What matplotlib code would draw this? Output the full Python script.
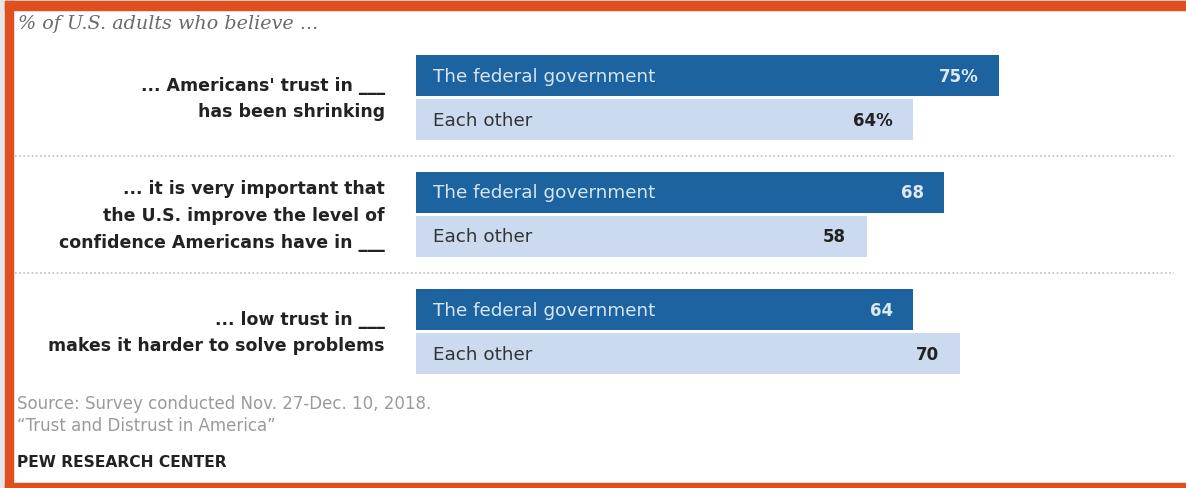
import matplotlib
matplotlib.use("Agg")
import matplotlib.pyplot as plt
from matplotlib.patches import Rectangle

# ---- data ----
questions = ["... Americans' trust in ___\nhas been shrinking",
             "... it is very important that\nthe U.S. improve the level of\nconfidence Americans have in ___",
             "... low trust in ___\nmakes it harder to solve problems"]
series_names = ["The federal government", "Each other"]
federal = [75, 68, 64]
each_other = [64, 58, 70]
value_labels_fed = ["75%", "68", "64"]
value_labels_each = ["64%", "58", "70"]
title = "% of U.S. adults who believe ..."
source_lines = ["Source: Survey conducted Nov. 27-Dec. 10, 2018.",
                "\u201cTrust and Distrust in America\u201d"]
credit = "PEW RESEARCH CENTER"

# ---- layout ----
W, H = 1186, 489
fig = plt.figure(figsize=(W / 100, H / 100), dpi=100)
fig.patch.set_facecolor("white")
ax = fig.add_axes([0, 0, 1, 1])
x0_px, px_per_unit = 416, 7.77
ax.set_xlim(-x0_px / px_per_unit, (W - x0_px) / px_per_unit)
ax.set_ylim(H, 0)
ax.axis("off")

FED_C = "#1d63a0"
EACH_C = "#cbdaee"
group_top, group_step, bar_h, gap = 56, 117, 41, 3
SANS = ["DejaVu Sans"]

for i, (f, e) in enumerate(zip(federal, each_other)):
    yf = group_top + i * group_step + bar_h / 2
    ye = yf + bar_h + gap
    ax.barh([yf], [f], height=bar_h, left=0, color=FED_C, edgecolor="none")
    ax.barh([ye], [e], height=bar_h, left=0, color=EACH_C, edgecolor="none")
    pad = 17 / px_per_unit
    ax.text(pad, yf, series_names[0], ha="left", va="center", color="#d6e6f6",
            fontsize=13.2, family=SANS)
    ax.text(pad, ye, series_names[1], ha="left", va="center", color="#333333",
            fontsize=13.2, family=SANS)
    ax.text(f - 20 / px_per_unit, yf, value_labels_fed[i], ha="right", va="center",
            color="#dce9f6", fontsize=12, fontweight="bold", family=SANS)
    ax.text(e - 21 / px_per_unit, ye, value_labels_each[i], ha="right", va="center",
            color="#222222", fontsize=12, fontweight="bold", family=SANS)
    # question label
    ax.text(-31 / px_per_unit, (yf + ye) / 2 + 0.5, questions[i], ha="right", va="center",
            color="#222222", fontsize=12.5, linespacing=1.62, fontweight="bold", family=SANS)
    if i < len(federal) - 1:
        ysep = ye + bar_h / 2 + 16
        ax.plot([-401 / px_per_unit, (1174 - x0_px) / px_per_unit], [ysep, ysep],
                color="#bdbdbd", lw=1.2, ls=(0, (1.0, 1.5)))

# title and footer
fig.text(18 / W, 1 - 24 / H, title, ha="left", va="center", color="#6a6a6a",
         fontsize=13.8, style="italic", family=["DejaVu Serif"])
fig.text(17 / W, 1 - 404 / H, source_lines[0], ha="left", va="center", color="#9a9a9a",
         fontsize=12, family=SANS)
fig.text(17 / W, 1 - 426 / H, source_lines[1], ha="left", va="center", color="#9a9a9a",
         fontsize=12, family=SANS)
fig.text(17 / W, 1 - 463 / H, credit, ha="left", va="center", color="#222222",
         fontsize=11.2, fontweight="bold", family=SANS)

# frame
ORANGE = "#e0501f"
fig.patches.append(Rectangle((0, 0), 5 / W, 1, transform=fig.transFigure, color="#e6e6e6", zorder=5))
fig.patches.append(Rectangle((0, 1 - 2 / H), 1, 2 / H, transform=fig.transFigure, color="#e6e6e6", zorder=5))
fig.patches.append(Rectangle((5 / W, 0), 8 / W, 1 - 2 / H, transform=fig.transFigure, color=ORANGE, zorder=6))
fig.patches.append(Rectangle((5 / W, 1 - 11 / H), 1, 9 / H, transform=fig.transFigure, color=ORANGE, zorder=6))
fig.patches.append(Rectangle((5 / W, 0), 1, 5 / H, transform=fig.transFigure, color=ORANGE, zorder=6))

fig.savefig("out.png", dpi=100, facecolor="white")
